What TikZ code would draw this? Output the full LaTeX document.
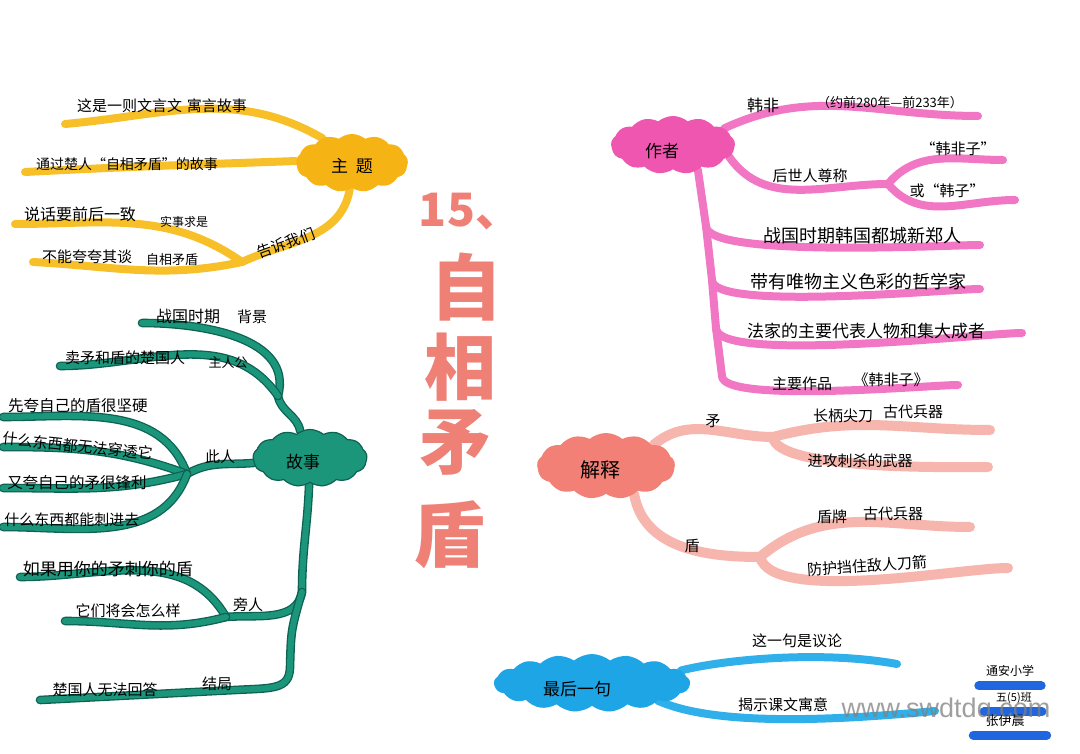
\documentclass[tikz,border=0pt]{standalone}
\usepackage{fontspec}
\setmainfont{Noto Sans CJK SC}
\newfontfamily\wmfont{Liberation Sans}
\usetikzlibrary{shapes.symbols,backgrounds,calc}
\definecolor{ycol}{RGB}{246,180,20}
\definecolor{yline}{RGB}{248,192,40}
\definecolor{tcol}{RGB}{28,150,122}
\definecolor{tdark}{RGB}{14,98,82}
\definecolor{pcol}{RGB}{238,86,176}
\definecolor{pline}{RGB}{241,118,196}
\definecolor{scol}{RGB}{243,128,118}
\definecolor{sline}{RGB}{246,182,174}
\definecolor{bcol}{RGB}{30,165,230}
\definecolor{bline}{RGB}{48,176,234}
\definecolor{sigcol}{RGB}{32,102,222}
\definecolor{ttlcol}{RGB}{239,128,118}
\tikzstyle{txt}=[inner sep=0pt,font=\fontsize{15}{15}\selectfont]
\tikzstyle{big}=[inner sep=0pt,font=\fontsize{17}{17}\selectfont]
\tikzstyle{ttl}=[inner sep=0pt,text=ttlcol,font=\fontsize{72}{72}\selectfont\bfseries]
\tikzstyle{cloudy}=[cloud,cloud puffs=13,cloud puff arc=80,cloud ignores aspect,inner sep=0pt]
\tikzstyle{ycloud}=[cloudy,fill=ycol,minimum width=112pt,minimum height=58pt]
\tikzstyle{tcloud}=[cloudy,fill=tcol,draw=tdark,line width=1.2pt,minimum width=114pt,minimum height=57pt]
\tikzstyle{pcloud}=[cloudy,fill=pcol,minimum width=124pt,minimum height=58pt]
\tikzstyle{scloud}=[cloudy,fill=scol,minimum width=138pt,minimum height=66pt]
\tikzstyle{bcloud}=[cloudy,cloud puffs=17,fill=bcol,minimum width=196pt,minimum height=58pt]
\tikzstyle{ybr}=[line width=8pt,draw=yline,line cap=round]
\tikzstyle{tbr}=[line width=1.3pt,draw=tdark,double=tcol,double distance=6pt,line cap=round]
\tikzstyle{pbr}=[line width=8pt,draw=pline,line cap=round,line join=round]
\tikzstyle{sbr}=[line width=10pt,draw=sline,line cap=round]
\tikzstyle{bbr}=[line width=8pt,draw=bline,line cap=round]
\tikzstyle{sig}=[line width=9pt,draw=sigcol,line cap=round]

\begin{document}
\begin{tikzpicture}[x=1pt,y=-1pt]
\useasboundingbox (0,0) rectangle (1080,754);
% title
\node[ttl,font=\fontsize{46}{46}\selectfont\bfseries] (n15) at (470,212) {15、};
\node[ttl] (c1) at (466,287) {自};
\node[ttl] (c2) at (460,367) {相};
\node[ttl] (c3) at (455,442) {矛};
\node[ttl] (c4) at (449,535) {盾};

% zhu ti
\node[ycloud] (zt) at (352,163) {};
\node[big] at (352,166) {主\hspace{8pt}题};
\coordinate (ya) at (65,124);
\coordinate (yb) at (25,172);
\coordinate (yj) at (242,262);
\coordinate (yc) at (15,224);
\coordinate (yd) at (33,262);
\node[txt] (y1) at (162,106) {这是一则文言文\hspace{5pt}寓言故事};
\node[txt,font=\fontsize{14}{14}\selectfont] (y2) at (127,164) {通过楚人“自相矛盾”的故事};
\node[txt,rotate=20] (y3) at (286,243) {告诉我们};
\node[txt,font=\fontsize{16}{16}\selectfont] (y4) at (80,214) {说话要前后一致};
\node[txt,font=\fontsize{12}{12}\selectfont] (y5) at (184,222) {实事求是};
\node[txt] (y6) at (87,257) {不能夸夸其谈};
\node[txt,font=\fontsize{13}{13}\selectfont] (y7) at (172,260) {自相矛盾};

% gu shi
\node[tcloud] (gs) at (310,458) {};
\node[big] at (303,462) {故事};
\coordinate (tj1) at (278,396);
\coordinate (t1) at (142,323);
\coordinate (t2) at (60,366);
\coordinate (tj2) at (187,474);
\coordinate (t3) at (3,417);
\coordinate (t4) at (3,447);
\coordinate (t5) at (3,488);
\coordinate (t6) at (3,527);
\coordinate (tj4) at (302,592);
\coordinate (tj3) at (226,617);
\coordinate (t7) at (20,577);
\coordinate (t8) at (65,621);
\coordinate (t9) at (40,700);
\node[txt,font=\fontsize{16}{16}\selectfont] (g1) at (188,316) {战国时期};
\node[txt] (g2) at (252,317) {背景};
\node[txt] (g3) at (125,358) {卖矛和盾的楚国人};
\node[txt,font=\fontsize{13}{13}\selectfont] (g4) at (228,363) {主人公};
\node[txt] (g5) at (220,457) {此人};
\node[txt,font=\fontsize{15.5}{15}\selectfont] (g6) at (78,406) {先夸自己的盾很坚硬};
\node[txt,rotate=-6] (g7) at (78,446) {什么东西都无法穿透它};
\node[txt,font=\fontsize{15.5}{15}\selectfont] (g8) at (77,483) {又夸自己的矛很锋利};
\node[txt] (g9) at (72,520) {什么东西都能刺进去};
\node[txt,font=\fontsize{17}{17}\selectfont] (g10) at (108,569) {如果用你的矛刺你的盾};
\node[txt] (g11) at (128,611) {它们将会怎么样};
\node[txt] (g12) at (248,605) {旁人};
\node[txt] (g13) at (105,690) {楚国人无法回答};
\node[txt] (g14) at (217,684) {结局};

% zuo zhe
\node[pcloud] (zz) at (673,145) {};
\node[big] at (662,151) {作者};
\coordinate (p1) at (978,116);
\coordinate (pj1) at (888,184);
\coordinate (p2) at (1003,160);
\coordinate (p3) at (1015,200);
\coordinate (pj2) at (706,226);
\coordinate (pj3) at (712,280);
\coordinate (pj4) at (716,328);
\coordinate (pj5) at (722,376);
\coordinate (p4) at (980,245);
\coordinate (p5) at (980,289);
\coordinate (p6) at (1022,333);
\coordinate (p7) at (958,385);
\node[txt,font=\fontsize{16}{16}\selectfont] (z1) at (763,105) {韩非};
\node[txt,font=\fontsize{13}{13}\selectfont] (z2) at (890,103) {（约前280年—前233年）};
\node[txt] (z3) at (810,176) {后世人尊称};
\node[txt] (z4) at (958,149) {“韩非子”};
\node[txt] (z5) at (947,191) {或“韩子”};
\node[txt,font=\fontsize{18}{18}\selectfont] (z6) at (862,236) {战国时期韩国都城新郑人};
\node[txt,font=\fontsize{18}{18}\selectfont] (z7) at (858,282) {带有唯物主义色彩的哲学家};
\node[txt,font=\fontsize{17}{17}\selectfont] (z8) at (866,331) {法家的主要代表人物和集大成者};
\node[txt] (z9) at (802,384) {主要作品};
\node[txt] (z10) at (891,380) {《韩非子》};

% jie shi
\node[scloud] (js) at (606,466) {};
\node[txt,font=\fontsize{20}{20}\selectfont] at (600,470) {解释};
\coordinate (sj1) at (773,437);
\coordinate (s1) at (990,430);
\coordinate (s2) at (988,467);
\coordinate (sj2) at (760,557);
\coordinate (s3) at (970,527);
\coordinate (s4) at (1008,568);
\node[txt] (j1) at (713,421) {矛};
\node[txt] (j2) at (843,416) {长柄尖刀};
\node[txt] (j3) at (913,412) {古代兵器};
\node[txt] (j4) at (860,461) {进攻刺杀的武器};
\node[txt] (j5) at (692,546) {盾};
\node[txt] (j6) at (832,517) {盾牌};
\node[txt] (j7) at (893,514) {古代兵器};
\node[txt,rotate=4] (j8) at (867,566) {防护挡住敌人刀箭};

% zui hou yi ju
\node[bcloud] (zh) at (592,683) {};
\node[big] at (577,689) {最后一句};
\coordinate (b1) at (897,664);
\coordinate (b2) at (935,711);
\node[txt] (h1) at (797,641) {这一句是议论};
\node[txt] (h2) at (783,705) {揭示课文寓意};

% name
\node[txt,font=\fontsize{12}{12}\selectfont] (sg1) at (1010,671) {通安小学};
\node[txt,font=\fontsize{11}{11}\selectfont] (sg2) at (1014,698) {五(5)班};
\node[txt,font=\fontsize{13}{13}\selectfont] (sg3) at (1005,721) {张伊晨};

\begin{scope}[on background layer]
\fill[white] (0,0) rectangle (1080,754);
\draw[ybr] (zt.140) to[out=150,in=5] (ya);
\draw[ybr] (zt.178) to[out=182,in=3] (yb);
\draw[ybr] (zt.-95) to[out=260,in=25] (yj);
\draw[ybr] (yj) to[out=145,in=0] (yc);
\draw[ybr] (yj) to[out=192,in=-3] (yd);
\draw[tbr] (gs.110) to[out=100,in=-80] (tj1);
\draw[tbr] (tj1) to[out=75,in=0] (t1);
\draw[tbr] (tj1) to[out=125,in=0] (t2);
\draw[tbr] (gs.185) to[out=185,in=30] (tj2);
\draw[tbr] (tj2) to[out=110,in=0] (t3);
\draw[tbr] (tj2) to[out=160,in=0] (t4);
\draw[tbr] (tj2) to[out=195,in=0] (t5);
\draw[tbr] (tj2) to[out=250,in=0] (t6);
\draw[tbr] (gs.-92) to[out=-92,in=90] (tj4) to[out=-100,in=5] (tj3);
\draw[tbr] (tj3) to[out=120,in=0] (t7);
\draw[tbr] (tj3) to[out=195,in=0] (t8);
\draw[tbr] (tj4) .. controls (291,630) .. (290,668) .. controls (289,690) and (272,688) .. (235,690) -- (t9);
\draw[pbr] (zz.18) to[out=25,in=180] (p1);
\draw[pbr] (zz.-12) to[out=-55,in=180] (pj1);
\draw[pbr] (pj1) to[out=50,in=180] (p2);
\draw[pbr] (pj1) to[out=-50,in=180] (p3);
\draw[pbr] (zz.-45) -- (pj2) -- (pj3) -- (pj4) -- (pj5);
\draw[pbr] (pj2) to[out=-90,in=180,looseness=.3] (p4);
\draw[pbr] (pj3) to[out=-90,in=180,looseness=.3] (p5);
\draw[pbr] (pj4) to[out=-90,in=180,looseness=.3] (p6);
\draw[pbr] (pj5) to[out=-90,in=180,looseness=.3] (p7);
\draw[sbr] (js.24) to[out=40,in=180] (sj1);
\draw[sbr] (sj1) to[out=15,in=180] (s1);
\draw[sbr] (sj1) to[out=-85,in=180,looseness=.4] (s2);
\draw[sbr] (js.-45) to[out=-80,in=180] (sj2);
\draw[sbr] (sj2) to[out=40,in=180] (s3);
\draw[sbr] (sj2) to[out=-75,in=180,looseness=.5] (s4);
\draw[bbr] (zh.8) .. controls (722,660) and (820,650) .. (b1);
\draw[bbr] (zh.-15) .. controls (705,722) and (800,724) .. (b2);
\draw[sig] ([xshift=-7pt,yshift=-9pt]sg1.south west) -- ([xshift=7pt,yshift=-9pt]sg1.south east);
\draw[sig] ([xshift=-12pt,yshift=-8pt]sg2.south west) -- ([xshift=10pt,yshift=-8pt]sg2.south east);
\draw[sig] ([xshift=-12pt,yshift=-8pt]sg3.south west) -- ([xshift=22pt,yshift=-8pt]sg3.south east);
\end{scope}

\node[font=\wmfont\fontsize{27}{27}\selectfont,text=gray,opacity=.75,inner sep=0pt] (wm) at (946,711) {www.swdtdq.com};
\end{tikzpicture}
\end{document}
